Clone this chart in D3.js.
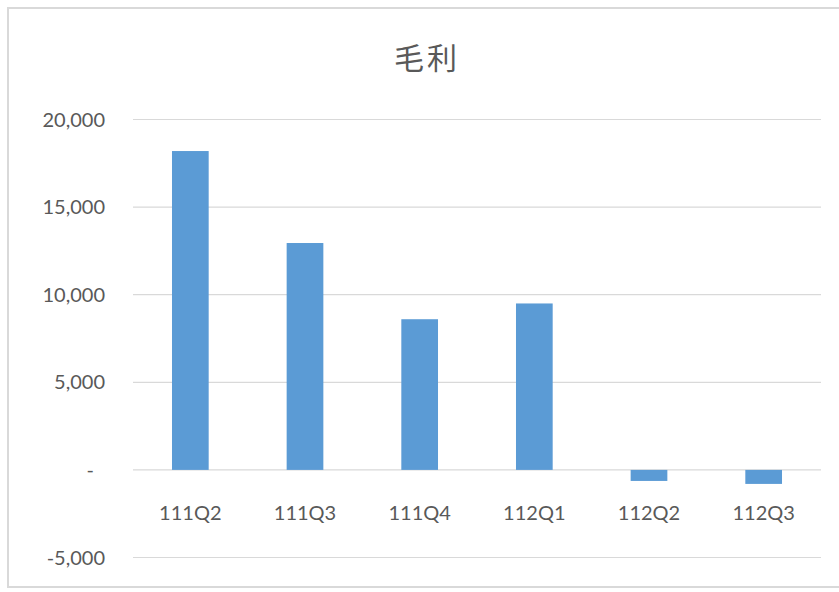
<!DOCTYPE html>
<html>
<head>
<meta charset="utf-8">
<script src="https://cdn.jsdelivr.net/npm/d3@7"></script>
<style>
  body { margin: 0; background: #fff; }
  text { font-family: Lato, "Open Sans", sans-serif; fill: #595959; }
</style>
</head>
<body>
<div id="chart"></div>
<script>
// data
var quarters = ["111Q2", "111Q3", "111Q4", "112Q1", "112Q2", "112Q3"];
var grossProfit = [18200, 12950, 8600, 9500, -630, -800];
var yTicks = [-5000, 0, 5000, 10000, 15000, 20000];
var chartTitle = "毛利";

var W = 839, H = 592;
var margin = {top: 119.5, right: 18, bottom: 34.5, left: 133};

var svg = d3.select("#chart")
  .append("svg")
    .attr("width", W)
    .attr("height", H);

// outer frame
svg.append("rect")
  .attr("x", 8).attr("y", 8)
  .attr("width", W + 10).attr("height", 579)
  .attr("fill", "none")
  .attr("stroke", "#d9d9d9")
  .attr("stroke-width", 2);

var x = d3.scaleBand()
  .domain(quarters)
  .range([margin.left, W - margin.right])
  .paddingInner(0.68)
  .paddingOuter(0.34);

var y = d3.scaleLinear()
  .domain([-5000, 20000])
  .range([H - margin.bottom, margin.top]);

// gridlines
svg.append("g")
  .selectAll("line")
  .data(yTicks)
  .enter()
  .append("line")
    .attr("x1", margin.left)
    .attr("x2", W - margin.right)
    .attr("y1", function(d) { return y(d); })
    .attr("y2", function(d) { return y(d); })
    .attr("stroke", "#d9d9d9")
    .attr("stroke-width", 1.2);

// y labels, zero shown as a dash like excel accounting format
var fmt = d3.format(",");
svg.append("g")
  .selectAll("text")
  .data(yTicks)
  .enter()
  .append("text")
    .attr("x", function(d) { return d == 0 ? 94 : 105; })
    .attr("y", function(d) { return y(d); })
    .attr("dy", "0.35em")
    .attr("text-anchor", "end")
    .style("font-size", "20px")
    .text(function(d) { return d == 0 ? "-" : fmt(d).replace("\u2212", "-"); });

// bars
svg.append("g")
  .selectAll("rect")
  .data(grossProfit)
  .enter()
  .append("rect")
    .attr("x", function(d, i) { return x(quarters[i]); })
    .attr("width", x.bandwidth())
    .attr("y", function(d) { return y(Math.max(0, d)); })
    .attr("height", function(d) { return Math.abs(y(d) - y(0)); })
    .attr("fill", "#5b9bd5");

// category labels under the zero line
svg.append("g")
  .selectAll("text")
  .data(quarters)
  .enter()
  .append("text")
    .attr("x", function(d) { return x(d) + x.bandwidth() / 2; })
    .attr("y", 520)
    .attr("text-anchor", "middle")
    .style("font-size", "20px")
    .text(function(d) { return d; });

// title
svg.append("text")
  .attr("x", 427)
  .attr("y", 69)
  .attr("text-anchor", "middle")
  .style("font-family", "'Noto Sans CJK TC', sans-serif")
  .style("font-size", "30px")
  .style("letter-spacing", "3px")
  .text(chartTitle);
</script>
</body>
</html>
